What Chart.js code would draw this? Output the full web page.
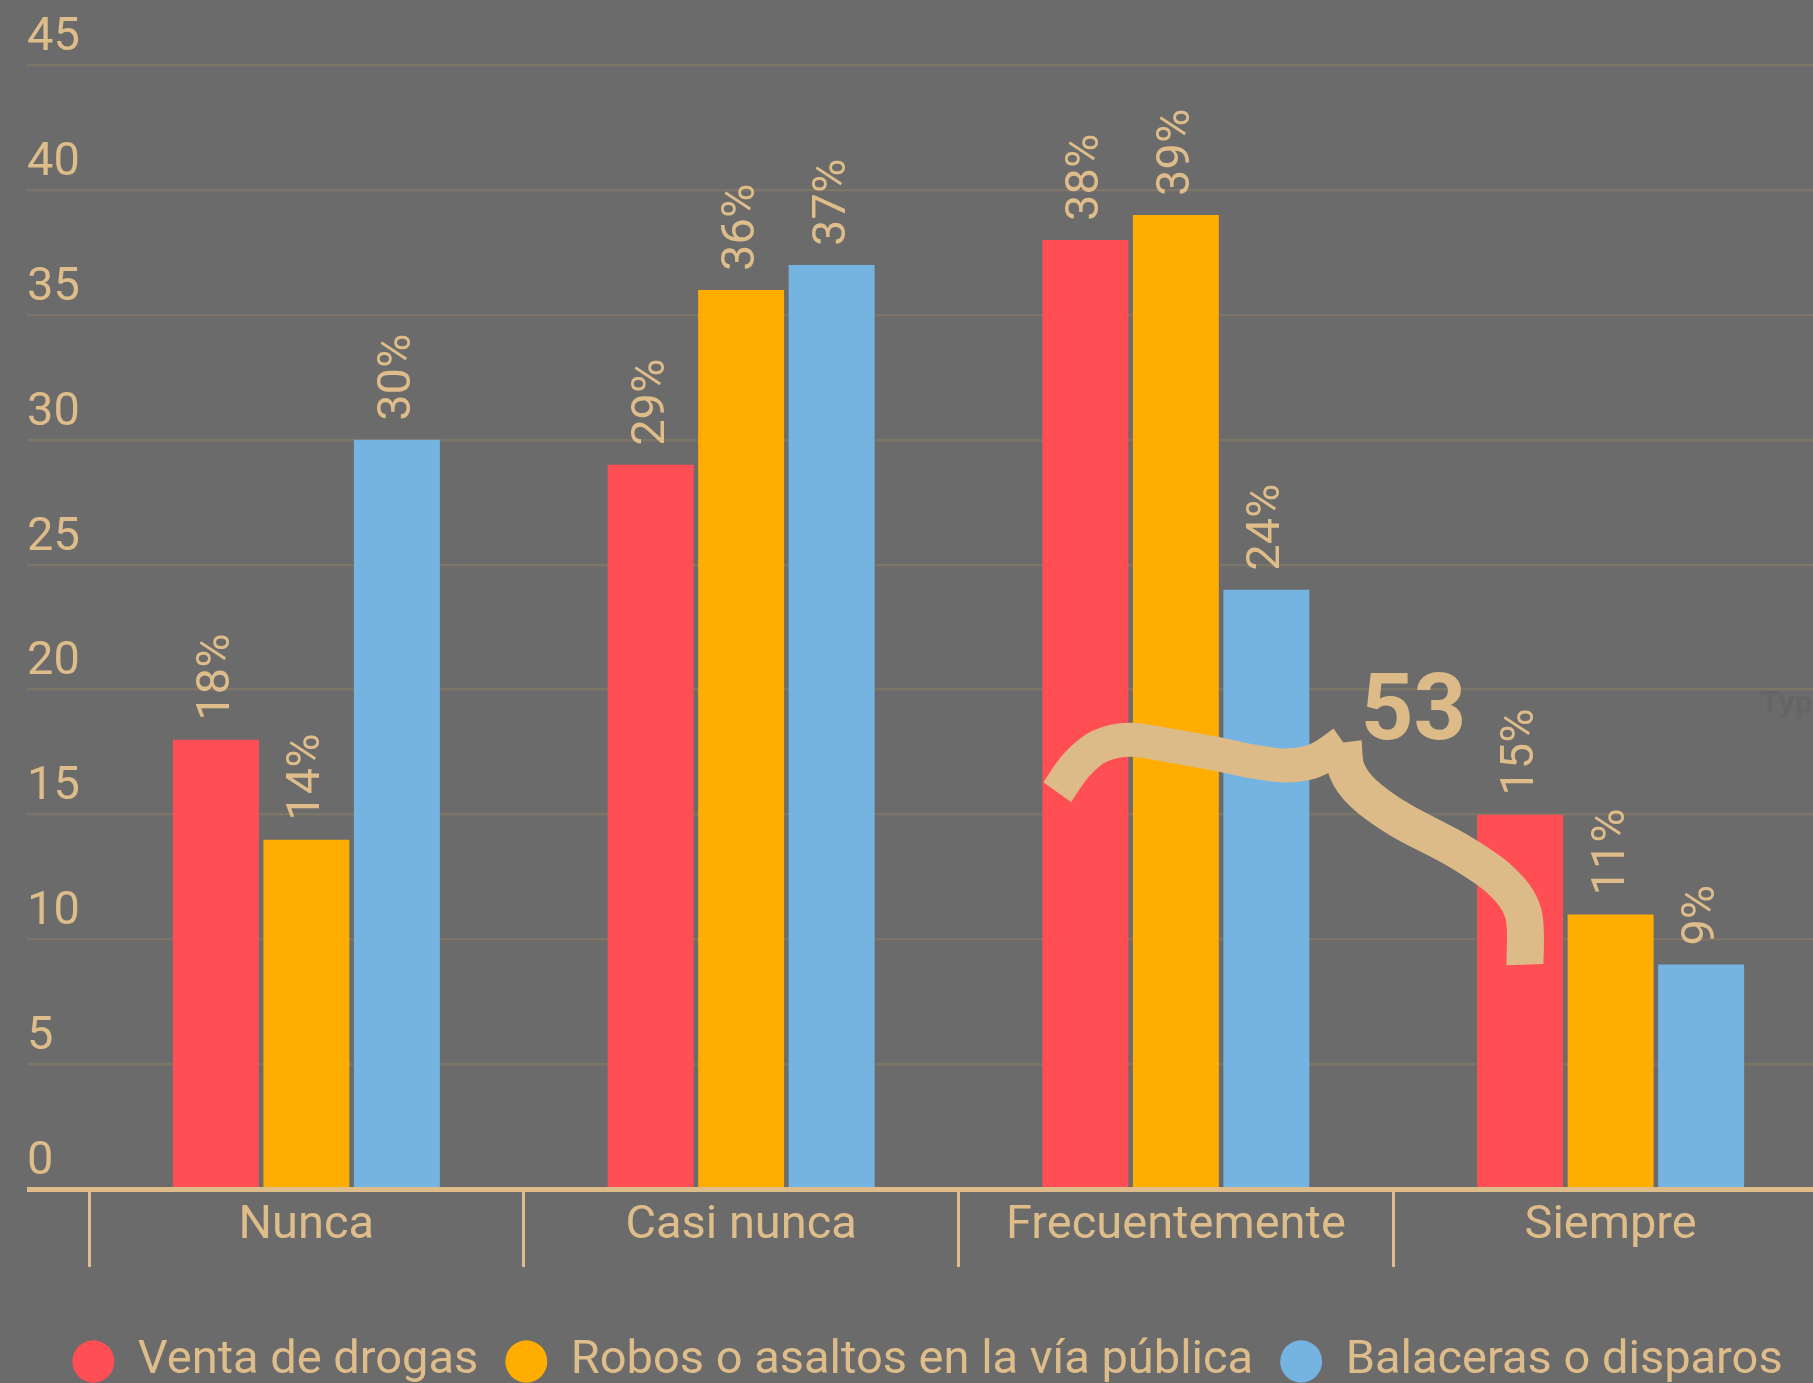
<!DOCTYPE html>
<html lang="es">
<head>
<meta charset="utf-8">
<title>Frecuencia de delitos</title>
<script src="https://cdn.jsdelivr.net/npm/chart.js@4.4.1/dist/chart.umd.min.js"></script>
<style>
  html, body { margin: 0; padding: 0; background: #6b6b6b; overflow: hidden; }
  #wrap { width: 1828px; height: 1395px; position: relative; }
</style>
</head>
<body>
<div id="wrap"><canvas id="chart"></canvas></div>
<script>
const categories = ['Nunca', 'Casi nunca', 'Frecuentemente', 'Siempre'];
const seriesNames = ['Venta de drogas', 'Robos o asaltos en la vía pública', 'Balaceras o disparos'];
const drogas = [18, 29, 38, 15];
const robos = [14, 36, 39, 11];
const balaceras = [30, 37, 24, 9];
const yTicks = [0, 5, 10, 15, 20, 25, 30, 35, 40, 45];

const TAN = '#dfbd8b';
const GRID = '#7d7567';
const colors = ['#ff4f55', '#ffad00', '#75b3e0'];

// brace drawn over "Frecuentemente" / "Siempre": [category units, value units]
const braceLeft = [[1.727, 15.9], [1.772, 17.0], [1.826, 17.75], [1.895, 18.0], [1.979, 17.79],
  [2.094, 17.43], [2.178, 17.13], [2.247, 16.97], [2.301, 17.06], [2.339, 17.33], [2.385, 17.89]];
const braceRight = [[2.385, 17.89], [2.393, 16.79], [2.431, 15.86], [2.516, 14.79], [2.646, 13.59],
  [2.746, 12.39], [2.799, 11.06], [2.803, 9.0]];
const braceLabelAt = [2.425, 18.03];

Chart.defaults.font.family = 'Roboto';

function smoothStroke(ctx, pts) {
    ctx.beginPath();
    ctx.moveTo(pts[0].x, pts[0].y);
    for (let i = 0; i < pts.length - 1; i++) {
        const p0 = pts[i - 1] || pts[i], p1 = pts[i], p2 = pts[i + 1], p3 = pts[i + 2] || p2;
        ctx.bezierCurveTo(
            p1.x + (p2.x - p0.x) / 6, p1.y + (p2.y - p0.y) / 6,
            p2.x - (p3.x - p1.x) / 6, p2.y - (p3.y - p1.y) / 6,
            p2.x, p2.y);
    }
    ctx.stroke();
}

const overlay = {
    id: 'overlay',
    afterDatasetsDraw(chart) {
        const { ctx, scales: { x, y } } = chart;
        ctx.save();
        // rotated value labels
        ctx.font = '47px Roboto';
        ctx.fillStyle = TAN;
        ctx.textAlign = 'left';
        ctx.textBaseline = 'alphabetic';
        chart.data.datasets.forEach((ds, i) => {
            chart.getDatasetMeta(i).data.forEach((bar, j) => {
                ctx.save();
                ctx.translate(bar.x + 13, bar.y - 19);
                ctx.rotate(-Math.PI / 2);
                ctx.fillText(ds.data[j] + '%', 0, 0);
                ctx.restore();
            });
        });

        // brace + total
        const step = x.getPixelForValue(1) - x.getPixelForValue(0);
        const toPx = ([u, v]) => ({ x: x.getPixelForValue(0) + u * step, y: y.getPixelForValue(v) });
        ctx.strokeStyle = '#dcbb89';
        ctx.lineCap = 'butt';
        ctx.lineJoin = 'round';
        ctx.lineWidth = 34;
        smoothStroke(ctx, braceLeft.map(toPx));
        ctx.lineWidth = 37;
        smoothStroke(ctx, braceRight.map(toPx));

        const lp = toPx(braceLabelAt);
        ctx.fillStyle = '#dcbb89';
        ctx.font = 'bold 92px Roboto';
        ctx.fillText(String(drogas[2] + drogas[3]), lp.x, lp.y);

        // faint leftover text at the right edge
        ctx.fillStyle = 'rgba(0,0,0,0.05)';
        ctx.font = 'bold 32px Roboto';
        ctx.fillText('Type', chart.chartArea.right - 68, y.getPixelForValue(19.05));
        ctx.restore();
    }
};

const ctx = document.getElementById('chart').getContext('2d');
new Chart(ctx, {
    type: 'bar',
    data: {
        labels: categories,
        datasets: [drogas, robos, balaceras].map((values, i) => ({
            label: seriesNames[i],
            data: values,
            backgroundColor: colors[i],
            borderWidth: 0,
            categoryPercentage: 0.6245,
            barPercentage: 0.95
        }))
    },
    options: {
        responsive: true,
        maintainAspectRatio: false,
        animation: false,
        layout: { padding: { top: 65, left: 27, right: 0, bottom: 0 } },
        plugins: {
            tooltip: { enabled: false },
            legend: {
                position: 'bottom',
                maxWidth: 1777,
                labels: {
                    color: TAN,
                    font: { size: 47 },
                    usePointStyle: true,
                    pointStyle: 'circle',
                    pointStyleWidth: 42,
                    boxHeight: 30,
                    padding: 27
                }
            }
        },
        scales: {
            x: {
                border: { display: false },
                grid: {
                    offset: true,
                    drawOnChartArea: false,
                    drawTicks: true,
                    tickLength: 77.5,
                    color: TAN,
                    lineWidth: 3
                },
                ticks: { color: TAN, font: { size: 47 }, padding: -69 },
                afterFit: (scale) => { scale.height = 121.5; }
            },
            y: {
                min: 0,
                max: 45,
                border: { display: false },
                afterBuildTicks: (scale) => { scale.ticks = yTicks.map(v => ({ value: v })); },
                grid: {
                    color: (c) => (c.tick && c.tick.value === 0) ? TAN : GRID,
                    lineWidth: (c) => (c.tick && c.tick.value === 0) ? 5 : 2.5,
                    tickLength: 62
                },
                ticks: {
                    color: TAN,
                    font: { size: 47 },
                    crossAlign: 'far',
                    labelOffset: -27
                },
                afterFit: (scale) => { scale.width = 62; }
            }
        }
    },
    plugins: [overlay]
});
</script>
</body>
</html>
